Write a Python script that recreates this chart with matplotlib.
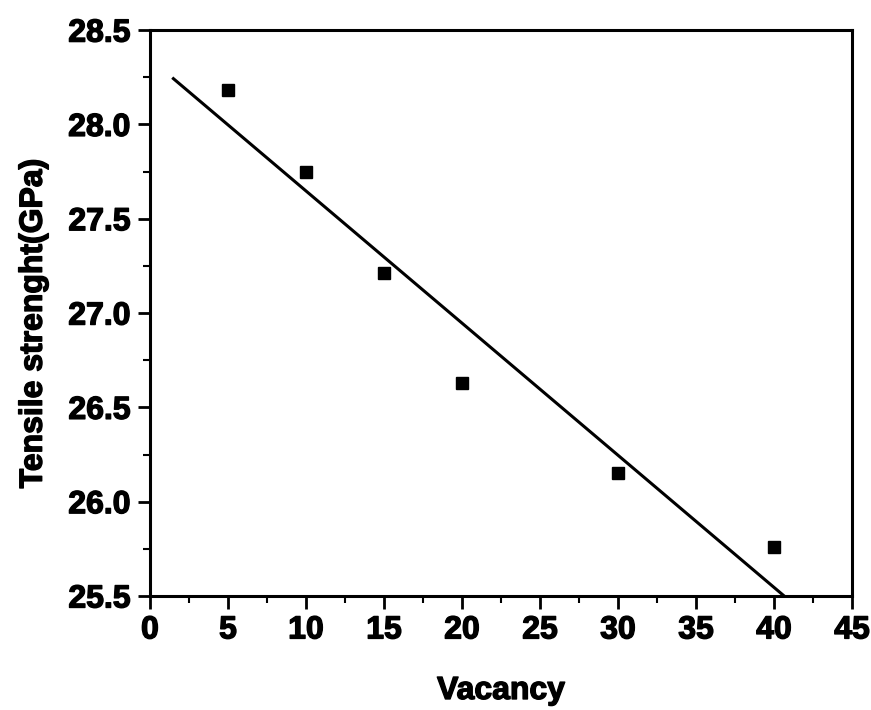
import matplotlib.pyplot as plt
import matplotlib.patheffects as pe
import numpy as np
from matplotlib.ticker import MultipleLocator

# Tensile strength versus vacancy concentration
vacancy = [5, 10, 15, 20, 30, 40]
strength = [28.18, 27.75, 27.21, 26.63, 26.15, 25.76]

plt.rcParams['font.family'] = 'Liberation Sans'
plt.rcParams['font.weight'] = 'bold'

fig = plt.figure(figsize=(8.71, 7.10), dpi=100)
ax = fig.add_axes([0.1722, 0.1606, 0.806, 0.797])

# Measured points
ax.plot(vacancy, strength, 's', color='black', markersize=8.5)

# Linear fit through the points
slope, intercept = np.polyfit(vacancy, strength, 1)
xfit = np.array([1.5, 42])
ax.plot(xfit, slope * xfit + intercept, color='black', linewidth=2.2)

ax.set_xlim(0, 45)
ax.set_ylim(25.5, 28.5)
ax.xaxis.set_major_locator(MultipleLocator(5))
ax.xaxis.set_minor_locator(MultipleLocator(2.5))
ax.yaxis.set_major_locator(MultipleLocator(0.5))
ax.yaxis.set_minor_locator(MultipleLocator(0.25))
ax.set_yticklabels([f'{v:.1f}' for v in ax.get_yticks()])

for s in ax.spines.values():
    s.set_linewidth(2.2)

ax.tick_params(which='major', direction='out', length=9, width=2, labelsize=23, pad=5)
ax.tick_params(which='minor', direction='out', length=5, width=1.5)

ax.set_xlabel('Vacancy', fontsize=23, fontweight='bold', labelpad=22)
ax.set_ylabel('Tensile strenght(GPa)', fontsize=23, fontweight='bold', labelpad=14)
ax.yaxis.label.set_y(0.482)

# thicken the lettering a little
heavy = [pe.withStroke(linewidth=1.0, foreground='black')]
for t in ax.get_xticklabels() + ax.get_yticklabels() + [ax.xaxis.label, ax.yaxis.label]:
    t.set_path_effects(heavy)

fig.savefig('out.png', dpi=100)
